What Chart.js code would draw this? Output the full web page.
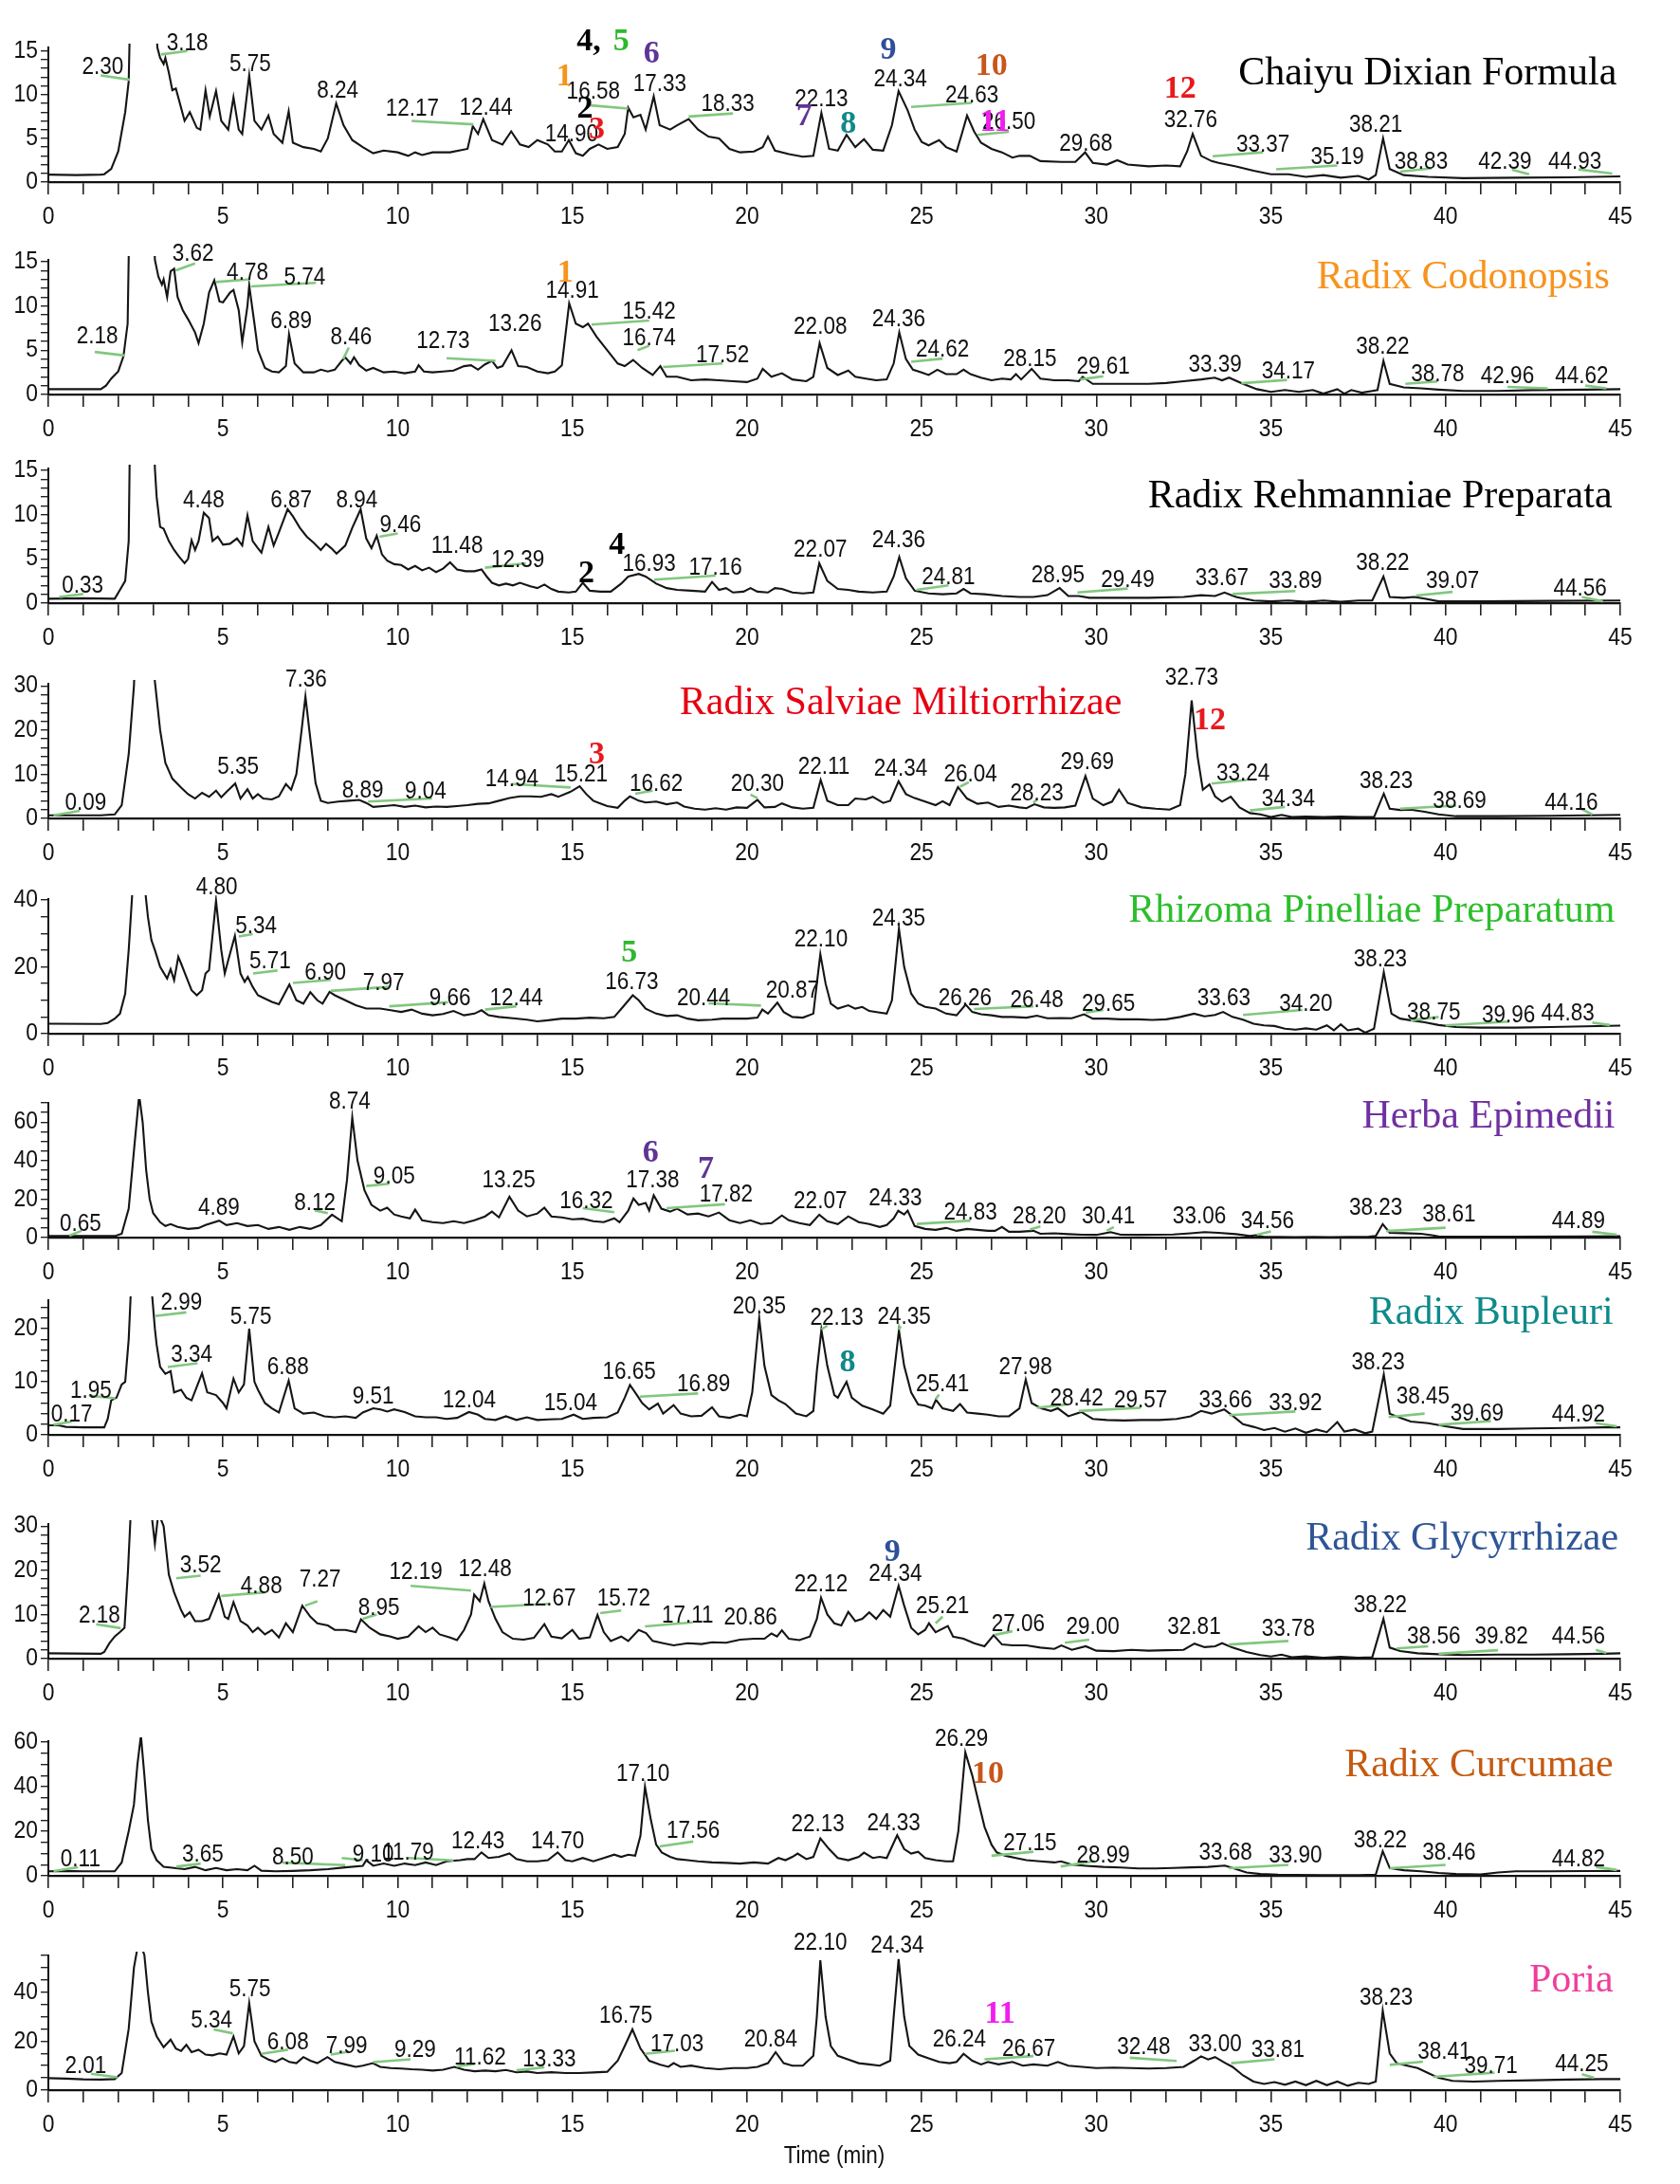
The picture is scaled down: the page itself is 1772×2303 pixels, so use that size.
<!DOCTYPE html>
<html>
<head>
<meta charset="utf-8">
<script src="https://cdn.jsdelivr.net/npm/chart.js@4.4.1/dist/chart.umd.min.js"></script>
<style>
  html, body { margin: 0; padding: 0; background: #fff; }
  #page { position: relative; width: 1772px; height: 2303px; overflow: hidden; background: #fff; }
  #page canvas { position: absolute; left: 0; }
</style>
</head>
<body>
<div id="page"></div>
<script>
// chromatograms: [retention time (min), response]
var traceChaiyu = [[0,0.85],[0.8,0.8],[1.5,0.85],[1.6,0.9],[1.8,1.5],[2.0,3.5],[2.2,8],[2.3,11.5],[2.45,40],[2.75,70],[3.05,22],[3.12,15.4],[3.2,14.2],[3.3,13.5],[3.35,14.2],[3.45,12.5],[3.55,10.5],[3.65,10.7],[3.8,8.5],[3.9,7],[4.05,8],[4.25,6.2],[4.35,6],[4.5,10.5],[4.62,7.5],[4.8,10.4],[4.95,7],[5.15,6],[5.3,9.7],[5.45,6],[5.55,5.5],[5.75,12.2],[5.9,7],[6.1,6],[6.3,7.6],[6.45,5.5],[6.7,4.5],[6.88,8.1],[7.0,4.5],[7.3,4],[7.6,3.8],[7.8,3.5],[8.0,5],[8.24,9],[8.45,6.5],[8.7,4.8],[9.0,4.0],[9.3,3.3],[9.6,3.6],[10.0,3.4],[10.3,3.0],[10.5,3.4],[10.7,3.1],[11.0,3.4],[11.5,3.4],[12.0,3.8],[12.15,6.4],[12.3,5.5],[12.45,7.2],[12.7,4.8],[13.0,4.3],[13.25,5.8],[13.5,4.3],[13.75,4.0],[14.0,4.8],[14.3,4.3],[14.5,3.5],[14.7,3.5],[14.9,4.8],[15.1,3.3],[15.3,3.0],[15.5,3.8],[15.75,4.3],[16.0,3.8],[16.3,4.0],[16.5,5.5],[16.6,8.5],[16.75,7.4],[16.95,7.7],[17.1,6.0],[17.33,9.8],[17.5,6.5],[17.8,6.0],[18.0,6.5],[18.33,7.2],[18.6,6.0],[18.9,5.2],[19.2,5.0],[19.5,3.8],[19.8,3.4],[20.2,3.5],[20.45,4.0],[20.6,5.2],[20.8,3.6],[21.2,3.2],[21.6,2.9],[21.9,3.0],[22.13,7.9],[22.35,3.8],[22.6,3.6],[22.85,5.4],[23.1,4.0],[23.35,4.9],[23.6,3.7],[23.9,3.6],[24.15,6.5],[24.34,10.4],[24.6,8.2],[24.8,6.0],[25.0,4.6],[25.2,4.2],[25.5,4.8],[25.7,4.0],[26.0,3.5],[26.15,5.5],[26.3,7.6],[26.5,5.8],[26.7,4.5],[27.0,3.8],[27.3,3.4],[27.6,2.8],[27.8,3.0],[28.1,3.0],[28.4,2.4],[29.0,2.3],[29.4,2.3],[29.68,3.4],[29.9,2.2],[30.3,2.0],[30.6,2.5],[30.9,2.0],[31.5,1.8],[32.0,1.9],[32.4,1.8],[32.6,3.5],[32.76,5.5],[33.0,3.0],[33.3,2.4],[33.5,2.2],[34.0,1.8],[34.5,1.3],[35.0,0.9],[35.5,0.9],[36.0,0.6],[36.5,0.8],[37.0,0.5],[37.5,0.7],[37.8,0.3],[38.0,0.8],[38.21,5.0],[38.4,1.5],[38.8,0.8],[39.5,0.6],[40.5,0.45],[42,0.5],[43.5,0.55],[45,0.65]];

var traceCodonopsis = [[0,0.6],[1.0,0.6],[1.5,0.6],[1.65,1.0],[1.8,1.8],[2.0,2.6],[2.15,4.3],[2.27,8],[2.4,40],[2.7,70],[2.98,25],[3.05,15.2],[3.15,13.3],[3.25,12.4],[3.3,13],[3.4,11],[3.5,13.9],[3.6,14.2],[3.7,11],[3.85,9.5],[4.0,8.5],[4.2,7],[4.3,5.8],[4.45,8],[4.6,11.5],[4.75,12.9],[4.9,10.5],[5.0,10.4],[5.2,11.5],[5.3,11.8],[5.45,9.5],[5.55,5.9],[5.7,10],[5.75,12.3],[5.9,8],[6.0,5],[6.2,3],[6.4,2.6],[6.6,2.5],[6.8,3.2],[6.89,6.8],[7.05,3.5],[7.3,2.5],[7.6,2.5],[7.8,2.8],[8.0,2.6],[8.2,2.8],[8.4,3.8],[8.5,4.2],[8.65,3.5],[8.75,4.2],[8.9,3.3],[9.1,2.7],[9.3,3.0],[9.6,2.5],[9.9,2.6],[10.2,2.4],[10.5,2.6],[10.6,3.3],[10.75,2.6],[11.0,2.5],[11.3,2.6],[11.6,2.7],[11.9,3.2],[12.1,3.3],[12.3,2.8],[12.5,3.4],[12.7,3.8],[12.85,3.0],[13.0,3.2],[13.26,5.0],[13.45,3.2],[13.7,3.1],[14.0,2.6],[14.3,2.4],[14.5,2.6],[14.7,3.3],[14.91,10.3],[15.1,8],[15.3,7.6],[15.45,8],[15.7,6.5],[16.0,5],[16.3,3.5],[16.5,3.2],[16.74,3.9],[17.0,3.0],[17.3,2.2],[17.52,3.2],[17.7,2.0],[18.0,2.0],[18.4,1.6],[18.8,1.7],[19.2,1.6],[19.6,1.5],[20.0,1.4],[20.3,1.8],[20.45,2.9],[20.7,2.0],[21.0,2.4],[21.3,1.7],[21.7,1.5],[21.9,2.0],[22.08,5.8],[22.3,3.0],[22.6,2.2],[22.9,2.7],[23.1,2.0],[23.4,1.8],[23.7,1.6],[24.0,1.7],[24.2,3.5],[24.36,7.0],[24.55,4.0],[24.75,2.8],[25.0,2.5],[25.2,2.2],[25.45,2.8],[25.7,2.3],[26.0,2.3],[26.2,2.8],[26.4,2.3],[26.7,1.9],[27.0,1.6],[27.3,1.8],[27.55,1.7],[27.7,2.3],[27.85,1.7],[28.15,2.9],[28.4,1.8],[28.8,1.6],[29.2,1.6],[29.5,1.5],[29.61,2.0],[29.9,1.2],[30.5,1.2],[31.5,1.2],[32.0,1.3],[32.5,1.5],[33.0,1.7],[33.39,1.9],[33.6,1.6],[33.8,1.9],[34.2,1.2],[34.6,0.6],[35.0,0.3],[35.4,0.5],[35.8,0.3],[36.2,0.5],[36.5,0.1],[36.9,0.6],[37.1,0.1],[37.3,0.5],[37.6,0.2],[37.9,0.4],[38.05,0.5],[38.22,3.8],[38.4,1.2],[38.8,0.8],[39.3,0.7],[39.8,0.55],[40.5,0.4],[41.5,0.4],[42.5,0.5],[44.0,0.55],[45.0,0.6]];

var traceRehmannia = [[0,0.5],[1.0,0.55],[1.9,0.5],[2.05,1.5],[2.2,2.5],[2.3,7],[2.4,40],[2.7,70],[2.98,25],[3.05,15.2],[3.1,12],[3.2,8.6],[3.3,8.4],[3.45,7],[3.6,6],[3.75,5.2],[3.9,4.5],[4.0,5],[4.1,7.1],[4.2,6],[4.3,7],[4.45,10.2],[4.6,9.6],[4.7,7],[4.85,7.5],[5.0,6.6],[5.2,6.7],[5.4,7.3],[5.55,6.5],[5.7,9.9],[5.85,7],[6.0,6.2],[6.1,5.7],[6.3,8.6],[6.45,6.5],[6.6,8],[6.85,10.6],[7.0,9.8],[7.2,8.5],[7.4,7.5],[7.6,6.8],[7.8,6],[7.95,6.7],[8.1,6.2],[8.25,5.6],[8.5,6.5],[8.7,8.5],[8.94,10.6],[9.1,7.3],[9.25,6.2],[9.4,7.6],[9.55,5.5],[9.7,4.8],[9.9,4.4],[10.1,4.3],[10.3,3.8],[10.5,4.2],[10.7,3.7],[10.9,4.0],[11.1,3.5],[11.3,3.9],[11.5,4.6],[11.7,3.8],[11.95,3.6],[12.2,3.6],[12.4,3.8],[12.55,3.0],[12.7,2.3],[12.9,2.0],[13.1,2.2],[13.3,2.0],[13.5,2.3],[13.8,1.9],[14.0,1.7],[14.2,2.1],[14.4,1.6],[14.6,1.3],[14.9,1.2],[15.1,1.3],[15.3,2.3],[15.5,1.4],[15.8,1.3],[16.1,1.3],[16.4,2.2],[16.6,3.0],[16.9,3.3],[17.1,3.0],[17.4,2.2],[17.7,1.7],[18.0,1.5],[18.4,1.4],[18.8,1.3],[19.0,2.4],[19.2,1.5],[19.4,1.7],[19.6,1.2],[19.9,1.3],[20.1,1.7],[20.3,1.3],[20.6,1.2],[20.8,1.7],[21.0,1.6],[21.3,1.2],[21.6,1.1],[21.9,1.2],[22.07,4.5],[22.3,2.5],[22.6,1.6],[22.9,1.5],[23.2,1.3],[23.6,1.2],[24.0,1.3],[24.2,3.0],[24.36,5.2],[24.55,2.8],[24.8,1.4],[25.2,1.1],[25.6,1.0],[26.0,1.1],[26.2,1.6],[26.4,1.1],[26.8,1.0],[27.3,0.8],[27.8,0.7],[28.2,0.7],[28.6,0.9],[28.95,1.7],[29.2,0.8],[29.5,0.8],[29.8,0.6],[30.5,0.6],[31.5,0.6],[32.5,0.7],[33.0,0.9],[33.4,0.8],[33.67,1.2],[34.0,0.7],[34.5,0.3],[35.0,0.2],[35.5,0.3],[36.0,0.15],[36.5,0.3],[37.0,0.15],[37.5,0.3],[37.9,0.3],[38.22,3.0],[38.4,0.7],[38.8,0.6],[39.1,0.7],[39.4,0.5],[39.8,0.2],[41,0.2],[43,0.25],[45,0.3]];

var traceSalvia = [[0,0.7],[1.5,0.7],[1.9,0.9],[2.1,3],[2.3,14.5],[2.45,30],[2.6,60],[2.9,50],[3.05,31],[3.2,20],[3.35,12.6],[3.55,9],[3.8,7],[4.0,5.5],[4.2,4.5],[4.4,5.8],[4.6,4.9],[4.8,6.3],[4.95,4.8],[5.1,6.0],[5.35,7.9],[5.5,4.5],[5.7,6.6],[5.85,4.5],[6.0,5.5],[6.15,4.5],[6.4,4.3],[6.6,5.0],[6.8,7.8],[6.95,6.5],[7.1,10],[7.25,20],[7.36,27.6],[7.5,18],[7.65,8],[7.8,4.0],[8.0,3.5],[8.3,3.8],[8.6,4.0],[8.9,4.2],[9.1,3.5],[9.3,2.6],[9.6,2.8],[9.9,3.0],[10.2,2.6],[10.5,2.9],[10.8,2.5],[11.1,2.7],[11.4,2.6],[11.7,2.8],[12.0,3.0],[12.3,3.3],[12.6,3.4],[12.9,4.0],[13.2,4.6],[13.5,5.0],[13.8,5.0],[14.1,4.9],[14.4,5.5],[14.6,4.9],[14.94,6.0],[15.21,7.3],[15.4,5.5],[15.6,4.0],[15.8,3.4],[16.0,2.8],[16.3,2.4],[16.5,4.0],[16.65,5.0],[16.9,4.0],[17.1,3.6],[17.4,3.8],[17.7,3.2],[18.0,3.6],[18.2,2.7],[18.5,2.2],[18.8,2.0],[19.1,2.3],[19.4,2.0],[19.7,2.5],[20.0,2.4],[20.3,4.2],[20.5,2.5],[20.8,2.6],[21.0,3.4],[21.3,2.5],[21.6,2.2],[21.9,2.4],[22.11,8.7],[22.3,4.0],[22.6,3.0],[22.9,3.0],[23.1,4.5],[23.4,4.3],[23.6,4.9],[23.9,3.5],[24.1,4.0],[24.34,8.4],[24.55,5.5],[24.8,4.6],[25.1,3.8],[25.4,3.0],[25.6,3.9],[25.8,3.0],[26.04,7.1],[26.3,4.5],[26.6,3.3],[26.9,3.6],[27.2,2.6],[27.5,2.9],[27.8,2.5],[28.0,2.3],[28.23,3.2],[28.5,2.5],[28.8,2.4],[29.1,2.5],[29.4,2.9],[29.69,9.6],[29.9,4.5],[30.2,3.0],[30.45,3.8],[30.65,6.5],[30.9,3.5],[31.3,2.5],[31.7,2.2],[32.1,2.0],[32.4,3.0],[32.55,10],[32.73,26.7],[32.9,14],[33.05,6.5],[33.24,7.7],[33.4,5],[33.6,3.8],[33.85,4.9],[34.1,2.5],[34.4,1.2],[34.7,0.9],[35.0,0.3],[35.3,0.8],[35.6,0.3],[36.0,0.4],[36.5,0.3],[37.0,0.4],[37.5,0.3],[37.95,0.3],[38.23,5.6],[38.4,2.2],[38.7,1.9],[39.0,2.0],[39.4,1.5],[39.8,0.9],[40.3,0.5],[41.5,0.5],[43,0.6],[45,0.8]];

var tracePinellia = [[0,3.0],[1.5,2.9],[1.7,3.2],[1.9,4.5],[2.05,6],[2.2,12],[2.3,25],[2.42,45],[2.6,80],[2.75,45],[2.85,35],[2.95,28],[3.05,25],[3.2,20],[3.4,16.5],[3.5,19.3],[3.6,16],[3.72,23],[3.8,21],[3.95,17],[4.1,13],[4.25,11.5],[4.4,13],[4.5,18],[4.6,19],[4.8,39.8],[4.95,25],[5.05,18],[5.15,22],[5.34,29.3],[5.5,18],[5.62,15.5],[5.71,17],[5.85,14],[6.0,11.5],[6.2,10.5],[6.4,9.5],[6.6,8.8],[6.9,14.7],[7.1,10],[7.3,9],[7.5,12.4],[7.7,10],[7.85,9],[8.05,12.5],[8.2,11.5],[8.5,10],[8.8,8.5],[9.1,7.5],[9.5,7.5],[9.8,7.0],[10.1,6.5],[10.4,7.2],[10.7,6.0],[11.0,5.5],[11.3,5.9],[11.6,6.8],[11.9,5.5],[12.2,6.0],[12.4,7.0],[12.6,5.5],[12.9,5.0],[13.3,4.6],[13.7,4.2],[14.0,3.7],[14.3,4.0],[14.7,4.5],[15.1,4.5],[15.5,4.8],[15.9,4.6],[16.2,5.0],[16.45,8],[16.73,11.5],[16.9,10],[17.1,7.5],[17.4,6.0],[17.7,5.3],[18.0,5.5],[18.3,4.5],[18.6,4.0],[19.0,4.2],[19.3,4.5],[19.6,4.5],[20.0,4.5],[20.3,4.8],[20.44,7.2],[20.6,6.0],[20.87,9.3],[21.05,6.5],[21.3,5.0],[21.6,4.8],[21.9,6.0],[22.0,15],[22.1,23.8],[22.25,15],[22.4,9],[22.6,7.5],[22.9,8.5],[23.1,7.5],[23.3,8.0],[23.5,6.8],[23.8,6.3],[24.0,6.0],[24.15,10],[24.35,31.4],[24.5,20],[24.7,12],[24.9,9],[25.1,8],[25.4,7.5],[25.7,6.0],[26.0,5.5],[26.26,8.7],[26.45,6.5],[26.7,5.8],[27.0,5.5],[27.3,5.0],[27.6,5.0],[28.0,4.8],[28.3,5.4],[28.6,4.6],[29.0,4.7],[29.3,4.6],[29.65,5.8],[29.9,4.5],[30.3,4.5],[30.7,4.3],[31.2,4.3],[31.6,4.1],[32.0,4.3],[32.4,5.0],[32.8,6.0],[33.1,5.2],[33.4,5.6],[33.63,6.5],[33.9,5.0],[34.2,4.2],[34.5,3.0],[34.8,2.5],[35.1,2.3],[35.4,1.5],[35.7,1.2],[36.0,1.6],[36.3,1.2],[36.6,2.5],[36.8,1.0],[37.0,2.8],[37.2,1.0],[37.5,1.5],[37.7,0.3],[37.95,1.5],[38.23,18.4],[38.45,6],[38.7,4.5],[39.0,4.0],[39.4,3.4],[39.8,2.6],[40.3,2.0],[41.0,1.8],[42.0,1.8],[43.0,2.0],[44.0,2.2],[45,2.4]];

var traceEpimedium = [[0,0.85],[1.9,0.8],[2.1,2],[2.3,15],[2.45,45],[2.6,74],[2.7,60],[2.8,35],[2.9,20],[3.0,12.7],[3.2,8],[3.35,6],[3.5,7],[3.7,5.5],[4.0,4.5],[4.3,5],[4.5,6.5],[4.89,8.8],[5.1,6.5],[5.4,7.5],[5.7,6],[6.0,6.5],[6.3,4.5],[6.6,5.5],[6.9,4.0],[7.2,5.5],[7.5,4.5],[7.8,6.5],[8.12,11.9],[8.4,8.5],[8.55,30],[8.7,62.5],[8.85,40],[9.05,24.6],[9.25,17],[9.5,14],[9.7,15.5],[9.9,12],[10.1,11],[10.35,10],[10.5,14.5],[10.7,9],[11.0,8],[11.3,7.5],[11.6,8.5],[11.9,7.5],[12.2,9],[12.5,11],[12.7,13.5],[12.9,10.5],[13.2,21.2],[13.45,14],[13.7,11],[14.0,12.5],[14.2,15.5],[14.4,11],[14.7,10.5],[15.0,9.5],[15.3,9.8],[15.6,8.5],[15.9,8.0],[16.2,10],[16.35,8],[16.6,14],[16.75,20.3],[16.9,17],[17.1,18],[17.2,14],[17.33,22],[17.55,15],[17.8,13.5],[18.0,15],[18.3,12],[18.6,12.5],[18.9,11],[19.2,13],[19.5,9],[19.8,7.5],[20.1,9],[20.4,7],[20.7,7.5],[21.0,11.5],[21.2,9],[21.5,7.5],[21.8,6.5],[22.07,11.9],[22.3,8.5],[22.6,7],[22.9,11],[23.2,8],[23.5,7],[23.8,5.5],[24.0,6.5],[24.2,10],[24.33,13.9],[24.5,12],[24.6,14],[24.8,6],[25.1,4.5],[25.4,4],[25.7,5],[26.0,3.5],[26.3,4.5],[26.6,4],[26.9,3.5],[27.1,3.5],[27.3,5.5],[27.5,3.0],[27.8,3.0],[28.2,3.5],[28.4,2.0],[28.8,2.2],[29.2,1.8],[29.6,1.5],[30.0,1.4],[30.41,2.8],[30.7,1.5],[31.2,1.4],[31.7,1.5],[32.2,1.6],[32.7,2.2],[33.1,2.8],[33.5,2.5],[34.0,1.8],[34.4,0.8],[34.56,1.2],[34.8,0.3],[35.2,0.4],[35.7,0.2],[36.2,0.3],[36.7,0.2],[37.2,0.3],[37.8,0.5],[38.0,0.8],[38.2,7.0],[38.4,2.5],[38.8,2.3],[39.3,2.0],[39.6,1.2],[39.8,0.6],[40.5,0.5],[42,0.5],[44,0.6],[45,0.7]];

var traceBupleurum = [[0,1.8],[0.3,1.8],[0.5,1.5],[1.0,1.4],[1.6,1.4],[1.7,3],[1.8,6.5],[1.95,7],[2.1,9.5],[2.2,10],[2.3,18],[2.45,40],[2.7,50],[2.95,28],[3.05,20],[3.1,17],[3.2,12.8],[3.35,11.5],[3.5,12],[3.6,8],[3.8,8.5],[3.95,7],[4.1,6.5],[4.4,11.6],[4.55,8],[4.8,7.5],[5.0,6],[5.1,5],[5.3,10.6],[5.45,8],[5.6,9.5],[5.75,20],[5.9,10],[6.0,8.5],[6.2,6],[6.4,5.0],[6.6,4.2],[6.88,10.2],[7.05,5],[7.3,4],[7.6,4.2],[7.9,3.5],[8.2,3.3],[8.5,3.5],[8.8,3.2],[9.0,4.2],[9.3,5],[9.51,4.8],[9.7,4.4],[9.9,4.8],[10.2,4.3],[10.5,3.5],[10.8,3.3],[11.1,3.3],[11.4,3.0],[11.7,3.2],[12.04,4.3],[12.3,3.8],[12.5,3.0],[12.8,2.8],[13.1,3.5],[13.4,2.8],[13.7,3.3],[14.0,2.8],[14.3,2.9],[14.7,3.0],[15.04,3.8],[15.3,3.0],[15.6,3.2],[16.0,3.3],[16.3,4.2],[16.5,7],[16.65,9.4],[16.85,7.5],[17.0,6.0],[17.2,4.8],[17.45,5.9],[17.6,4.0],[17.9,5.6],[18.1,4.0],[18.4,3.5],[18.7,3.6],[19.0,5.2],[19.2,3.5],[19.5,3.2],[19.8,3.8],[20.0,3.5],[20.15,8],[20.35,22],[20.5,13],[20.7,7.5],[20.9,6.5],[21.1,5.8],[21.4,4.0],[21.7,3.5],[21.9,4.5],[22.0,12],[22.13,19.8],[22.3,13],[22.5,7.5],[22.6,7.0],[22.85,10],[23.0,7.0],[23.3,5.5],[23.6,4.8],[23.9,4.0],[24.1,5.5],[24.35,19.7],[24.5,13],[24.7,8],[24.9,5.7],[25.1,5.5],[25.3,5.0],[25.41,6.6],[25.6,5.0],[25.9,4.5],[26.1,5.8],[26.3,4.2],[26.6,4.0],[26.9,3.8],[27.2,3.5],[27.5,3.5],[27.8,5],[27.98,10.4],[28.15,6],[28.42,5.0],[28.7,4.5],[28.9,5.0],[29.2,3.5],[29.57,4.3],[29.9,3.0],[30.3,2.8],[30.8,2.7],[31.3,2.8],[31.8,2.8],[32.3,3.0],[32.7,3.5],[33.0,4.5],[33.3,4.0],[33.66,4.8],[33.92,3.5],[34.2,2.0],[34.5,1.5],[34.8,0.9],[35.1,1.3],[35.4,0.6],[35.7,1.2],[36.0,0.4],[36.3,1.0],[36.6,0.5],[36.9,2.4],[37.1,0.6],[37.4,1.0],[37.7,0.3],[37.9,0.6],[38.23,11.4],[38.4,4],[38.7,3.2],[39.0,2.5],[39.5,2.2],[40.0,1.6],[40.5,1.1],[41.5,1.1],[42.5,1.2],[43.5,1.3],[44.5,1.4],[45,1.4]];

var traceGlycyrrhiza = [[0,1.2],[1.5,1.1],[1.6,1.5],[1.75,3.5],[1.9,5],[2.05,6],[2.18,7],[2.28,20],[2.4,40],[2.7,60],[2.95,33],[3.05,26],[3.15,33],[3.3,30],[3.45,19],[3.6,15],[3.8,11],[3.9,9.5],[4.05,10.5],[4.2,8.5],[4.4,8.5],[4.6,9],[4.88,14.5],[5.05,9.5],[5.15,9],[5.3,12.8],[5.5,8.5],[5.7,7.5],[5.85,6],[6.0,7],[6.2,5.5],[6.4,6.5],[6.6,4.8],[6.8,8],[7.0,6],[7.27,12],[7.5,9.5],[7.7,8],[8.0,7.5],[8.2,6.5],[8.5,6.5],[8.8,6.0],[8.95,8.9],[9.2,7],[9.5,5.5],[9.8,5.0],[10.0,4.5],[10.3,5.0],[10.6,7.3],[10.8,6.0],[11.0,7.0],[11.2,5.5],[11.5,4.8],[11.7,4.2],[11.9,6.5],[12.1,10],[12.19,14.5],[12.35,13],[12.48,17],[12.6,13],[12.8,9],[13.0,6.0],[13.3,4.5],[13.6,4.3],[13.9,4.7],[14.2,7.8],[14.4,5.0],[14.7,4.6],[15.0,6.5],[15.2,4.5],[15.5,4.8],[15.72,9.9],[15.9,6.0],[16.1,4.0],[16.4,5.0],[16.6,4.0],[16.9,6.5],[17.11,5.8],[17.3,4.0],[17.6,3.5],[17.9,3.0],[18.3,3.5],[18.7,3.3],[19.0,3.7],[19.4,3.6],[19.8,4.3],[20.2,4.5],[20.5,4.5],[20.7,5.7],[20.86,5.0],[21.0,6.4],[21.2,4.5],[21.5,4.2],[21.8,5.0],[22.0,9],[22.12,13.8],[22.3,10],[22.5,8],[22.7,7.5],[22.9,10.6],[23.1,8.5],[23.3,9],[23.5,10.5],[23.7,9],[23.9,11],[24.1,9.5],[24.34,16.5],[24.5,12],[24.7,7],[24.9,5.5],[25.1,6.5],[25.21,8],[25.4,6],[25.75,7.4],[25.9,5.0],[26.2,4.5],[26.5,3.5],[26.8,2.8],[27.06,5.3],[27.3,3.2],[27.6,3.0],[28.0,3.0],[28.4,2.5],[28.8,2.2],[29.0,3.0],[29.3,2.0],[29.7,2.8],[30.0,1.8],[30.5,1.7],[31.0,2.0],[31.5,1.8],[32.0,1.9],[32.5,2.0],[32.81,3.4],[33.1,2.6],[33.4,2.8],[33.6,3.5],[33.9,2.5],[34.3,1.5],[34.7,0.8],[35.0,0.5],[35.3,0.9],[35.6,0.3],[36.0,0.5],[36.5,0.2],[37.0,0.4],[37.5,0.2],[37.9,0.3],[38.22,9.0],[38.4,2.5],[38.7,1.7],[39.2,1.2],[39.8,1.0],[40.5,0.8],[41.5,0.9],[42.5,0.9],[43.5,1.0],[44.5,1.1],[45,1.2]];

var traceCurcuma = [[0,2.0],[0.5,2.2],[1.0,2.0],[1.9,2.0],[2.1,6],[2.3,20],[2.45,32],[2.55,50],[2.65,63],[2.75,45],[2.85,25],[2.95,12],[3.1,7],[3.3,4],[3.6,3.5],[3.9,3.0],[4.2,4.0],[4.5,2.5],[4.8,3.5],[5.1,2.5],[5.4,3.0],[5.7,2.5],[5.9,4.5],[6.1,2.3],[6.5,2.0],[7.0,2.2],[7.5,2.5],[8.0,3.0],[8.5,3.8],[9.0,4.5],[9.1,7],[9.3,4.5],[9.6,5.5],[9.9,4.5],[10.2,5.5],[10.5,4.8],[10.8,6.0],[11.1,4.8],[11.4,6.5],[11.79,7.0],[12.0,7.5],[12.2,7.5],[12.4,10.5],[12.6,8],[12.9,8.5],[13.2,10],[13.4,7.5],[13.7,6.5],[14.0,6.5],[14.3,7.0],[14.58,10.5],[14.8,7],[15.0,6.5],[15.3,8],[15.6,6.5],[15.9,8],[16.2,9.5],[16.4,8.5],[16.6,9.5],[16.8,9],[16.95,18],[17.08,40],[17.25,25],[17.4,14],[17.56,10.5],[17.8,8.5],[18.0,7.5],[18.3,7.0],[18.6,6.5],[19.0,6.0],[19.4,5.8],[19.8,5.5],[20.2,6.0],[20.6,5.5],[20.9,8.0],[21.1,7.0],[21.3,8.5],[21.45,10],[21.7,7.5],[21.9,8.5],[22.1,16.8],[22.35,12],[22.6,8],[22.9,7.0],[23.2,8.5],[23.35,10.4],[23.6,8],[23.8,8.5],[24.0,8],[24.3,18.2],[24.5,12],[24.7,10],[24.9,10.8],[25.1,8],[25.4,7],[25.7,6.5],[25.9,6.5],[26.05,20],[26.25,55.5],[26.45,45],[26.6,35],[26.8,22],[27.0,14],[27.15,10.5],[27.4,9.0],[27.7,8.0],[28.0,7.0],[28.4,6.5],[28.8,6.0],[28.99,6.5],[29.3,5.0],[29.7,4.5],[30.2,4.0],[30.7,3.7],[31.2,3.3],[31.7,3.3],[32.2,3.5],[32.7,3.8],[33.2,4.0],[33.68,4.6],[33.9,3.5],[34.3,1.5],[34.7,0.8],[35.2,0.5],[35.7,0.4],[36.5,0.3],[37.5,0.3],[38.0,0.5],[38.2,11],[38.4,3.5],[38.8,2.5],[39.3,2.0],[39.8,1.3],[40.3,0.8],[41.0,0.6],[41.5,1.5],[42.0,2.0],[43.0,2.0],[44.0,2.1],[45.0,2.2]];

var tracePoria = [[0,4.9],[0.5,4.7],[1.0,4.4],[1.5,4.3],[1.9,4.5],[2.1,7],[2.3,25],[2.45,50],[2.6,62],[2.75,55],[2.85,40],[2.95,28],[3.1,22],[3.3,17.5],[3.5,20.6],[3.65,17],[3.8,16],[3.95,18.5],[4.1,15.5],[4.3,16.5],[4.5,14.5],[4.7,14.2],[4.9,15],[5.1,14.5],[5.3,21.9],[5.45,15],[5.6,18],[5.75,35.5],[5.9,20],[6.1,14],[6.3,12.5],[6.5,11.5],[6.7,13],[6.9,11.5],[7.1,11],[7.3,13.5],[7.5,12],[7.7,11],[7.99,13.5],[8.2,11.5],[8.5,10.5],[8.8,9.5],[9.0,10],[9.29,11],[9.5,9.5],[9.8,9.0],[10.1,8.8],[10.4,8.5],[10.7,8.3],[11.0,8.0],[11.3,8.3],[11.62,9.5],[11.9,8.3],[12.2,7.7],[12.5,8.0],[12.8,7.7],[13.1,8.2],[13.4,7.3],[13.7,7.6],[14.0,7.0],[14.4,7.3],[14.8,7.0],[15.2,7.0],[15.6,7.2],[16.0,7.5],[16.3,12],[16.5,18],[16.72,24.8],[16.95,17],[17.2,12],[17.5,10.5],[17.75,9.5],[17.9,11.0],[18.1,9.5],[18.4,10],[18.8,9.0],[19.2,8.5],[19.6,9.0],[20.0,9.0],[20.3,9.5],[20.6,11],[20.82,15.5],[21.05,11],[21.3,10],[21.6,10],[21.9,14],[22.0,30],[22.1,53],[22.25,30],[22.4,18],[22.6,14],[22.9,12.5],[23.2,11],[23.5,10.5],[23.8,10],[24.1,12],[24.2,30],[24.34,53.5],[24.5,30],[24.65,18],[24.9,14.5],[25.2,13],[25.5,11.5],[25.8,11],[26.0,11.5],[26.2,14.8],[26.45,12],[26.7,10.5],[26.9,11.5],[27.2,10.5],[27.6,11.5],[27.9,10],[28.2,10.5],[28.6,10],[28.9,11.5],[29.2,10],[29.6,9.5],[30.0,9.0],[30.5,9.2],[31.0,9.0],[31.5,8.8],[32.0,9.0],[32.5,9.5],[32.8,12],[33.0,13.8],[33.2,12.5],[33.4,13.5],[33.7,11],[33.9,9.5],[34.2,6],[34.5,3.5],[34.8,2.5],[35.1,3.3],[35.4,2.2],[35.7,3.5],[36.0,2.0],[36.3,3.8],[36.6,2.0],[36.9,3.5],[37.2,1.8],[37.5,3.0],[37.8,2.5],[38.0,3.5],[38.2,32.5],[38.4,15],[38.6,11],[38.9,10],[39.2,9],[39.5,7],[39.8,5],[40.2,3.8],[40.8,3.5],[41.5,3.8],[42.5,4.0],[43.5,4.3],[44.5,4.5],[45,4.5]];

// peak labels: [text, label centre (min), label centre (response), green leader x1,y1,x2,y2]
var peaksChaiyu = [['2.30',1.56,13.1,[1.5,12.2,2.34,11.7]],['3.18',3.98,15.85,[3.23,14.6,3.98,15.0]],['5.75',5.78,13.4,null],['8.24',8.28,10.45,null],['12.17',10.42,8.36,[10.4,7.0,12.17,6.6]],['12.44',12.53,8.5,null],['14.90',14.98,5.4,null],['16.58',15.6,10.3,[15.45,8.8,16.6,8.4]],['17.33',17.5,11.15,null],['18.33',19.45,8.9,[18.33,7.5,19.6,7.85]],['22.13',22.13,9.4,null],['24.34',24.39,11.7,null],['24.63',26.44,9.9,[24.7,8.6,26.44,9.05]],['26.50',27.5,6.8,[26.6,5.4,27.5,5.75]],['29.68',29.7,4.35,null],['32.76',32.7,7.0,null],['33.37',34.77,4.2,[33.33,2.96,34.77,3.4]],['35.19',36.9,2.8,[35.15,1.46,36.9,1.9]],['38.21',38.0,6.45,null],['38.83',39.3,2.26,[38.7,1.2,39.6,1.57]],['42.39',41.7,2.26,[41.9,1.4,42.39,0.9]],['44.93',43.7,2.26,[43.8,1.45,44.77,0.97]]];
var peaksCodonopsis = [['2.18',1.4,6.5,[1.33,4.8,2.19,4.4]],['3.62',4.14,15.8,[3.64,14.0,4.2,14.8]],['4.78',5.7,13.7,[4.8,12.7,5.78,13.0]],['5.74',7.34,13.2,[5.8,12.2,7.66,12.6]],['6.89',6.95,8.25,null],['8.46',8.67,6.36,[8.44,4.0,8.6,5.3]],['12.73',11.3,6.0,[11.4,4.1,12.8,3.8]],['13.26',13.36,7.9,null],['14.91',15.0,11.7,null],['15.42',17.2,9.3,[15.55,7.9,17.2,8.35]],['16.74',17.2,6.35,[16.87,5.0,17.2,5.5]],['17.52',19.3,4.4,[17.6,3.1,19.3,3.5]],['22.08',22.1,7.6,null],['24.36',24.34,8.4,null],['24.62',25.6,5.0,[24.7,3.7,25.6,4.05]],['28.15',28.1,3.95,null],['29.61',30.2,3.1,[29.54,1.7,30.2,2.06]],['33.39',33.4,3.26,null],['34.17',35.5,2.6,[34.15,1.27,35.46,1.65]],['38.22',38.2,5.3,null],['38.78',39.77,2.23,[38.85,1.2,39.77,1.48]],['42.96',41.77,2.06,[41.77,0.86,42.92,0.69]],['44.62',43.9,2.06,[44.0,1.0,44.6,0.69]]];
var peaksRehmannia = [['0.33',0.98,1.9,[0.31,0.7,1.0,1.03]],['4.48',4.45,11.5,null],['6.87',6.95,11.5,null],['8.94',8.83,11.5,null],['9.46',10.08,8.8,[9.48,7.5,10.0,7.86]],['11.48',11.7,6.4,null],['12.39',13.44,4.8,[12.5,4.0,13.67,4.5]],['16.93',17.2,4.4,null],['17.16',19.1,4.0,[17.34,2.65,19.1,3.1]],['22.07',22.1,6.0,null],['24.36',24.34,7.0,null],['24.81',25.77,2.9,[24.85,1.5,25.77,2.0]],['28.95',28.9,3.1,null],['29.49',30.9,2.6,[29.46,1.2,30.9,1.65]],['33.67',33.6,2.75,null],['33.89',35.7,2.4,[33.9,1.03,35.7,1.37]],['38.22',38.2,4.5,null],['39.07',40.2,2.4,[39.15,0.86,40.2,1.27]],['44.56',43.85,1.55,[43.9,0.7,44.5,0.2]]];
var peaksSalvia = [['0.09',1.07,3.5,[0.15,0.7,0.9,1.7]],['5.35',5.43,11.5,null],['7.36',7.38,31.4,null],['8.89',9.0,6.3,null],['9.04',10.8,5.9,[9.15,3.8,10.98,4.5]],['14.94',13.27,8.7,[13.27,7.8,14.95,7.0]],['15.21',15.25,9.8,null],['16.62',17.4,7.7,[16.8,5.6,17.3,6.3]],['20.30',20.3,7.7,[20.1,5.4,20.3,4.6]],['22.11',22.2,11.5,null],['24.34',24.4,11.2,null],['26.04',26.4,9.8,[26.1,7.2,26.35,8.2]],['28.23',28.3,5.6,[28.2,3.5,28.3,4.3]],['29.69',29.74,12.7,null],['32.73',32.73,31.8,null],['33.24',34.2,10.1,[33.3,7.9,34.3,8.7]],['34.34',35.5,4.2,[34.4,1.8,35.4,2.6]],['38.23',38.3,8.4,null],['38.69',40.4,3.8,[38.7,2.2,40.3,2.9]],['44.16',43.6,3.5,[43.9,2.1,44.2,0.9]]];
var peaksPinellia = [['4.80',4.82,43.7,null],['5.34',5.95,31.9,[5.45,29.1,5.85,29.8]],['5.71',6.35,21.4,[5.86,18.0,6.56,18.9]],['6.90',7.93,18.0,[7.0,15.2,8.08,16.1]],['7.97',9.6,14.9,[8.08,12.8,9.76,14.0]],['9.66',11.5,10.5,[9.76,8.2,11.44,9.4]],['12.44',13.4,10.5,[12.5,7.2,13.4,8.2]],['16.73',16.7,15.2,null],['20.44',18.76,10.5,[18.9,9.1,20.4,8.4]],['20.87',21.3,12.8,null],['22.10',22.12,28.2,null],['24.35',24.34,34.2,null],['26.26',26.24,10.5,null],['26.48',28.3,10.0,[26.5,7.4,28.2,8.2]],['29.65',30.35,8.65,[29.7,6.3,30.2,7.1]],['33.63',33.65,10.5,null],['34.20',36.0,8.65,[34.2,5.6,35.9,7.1]],['38.23',38.13,22.1,null],['38.75',39.66,6.3,[39.0,4.0,39.8,5.0]],['39.96',41.8,5.4,[40.0,2.5,41.8,3.6]],['44.83',43.5,5.9,[44.2,3.3,44.7,2.6]]];
var peaksEpimedium = [['0.65',0.92,6.8,[0.6,1.0,0.95,3.5]],['4.89',4.88,15.3,null],['8.12',7.63,17.8,[7.63,14.1,8.0,12.7]],['8.74',8.63,70.3,null],['9.05',9.9,31.4,[9.1,26.8,9.76,28]],['13.25',13.18,29.7,null],['16.32',15.4,18.6,[15.3,15.25,16.2,13.2]],['17.38',17.3,29.7,null],['17.82',19.4,22,[17.7,15.25,19.37,17.3]],['22.07',22.1,18.6,null],['24.33',24.25,20.3,null],['24.83',26.4,12.7,[24.86,7.1,26.4,8.8]],['28.20',28.37,11,[28.1,4.2,28.4,5.8]],['30.41',30.35,11,[30.3,3.5,30.5,5.5]],['33.06',32.95,11,null],['34.56',34.9,8.5,[34.6,1.5,35.0,3.2]],['38.23',38.0,15.3,null],['38.61',40.1,11.9,[38.3,3.4,40.0,5.1]],['44.89',43.8,8.5,[44.2,3.0,44.9,1.5]]];
var peaksBupleurum = [['0.17',0.67,3.8,[0.15,1.9,0.67,2.5]],['1.95',1.22,8.2,[1.16,7.4,1.92,6.9]],['2.99',3.81,24.8,[3.05,22.4,3.95,23.1]],['3.34',4.1,15,[3.42,12.8,4.27,13.5]],['5.75',5.8,22.2,null],['6.88',6.86,12.6,null],['9.51',9.3,7.06,null],['12.04',12.05,6.5,null],['15.04',14.95,5.9,null],['16.65',16.63,11.8,null],['16.89',18.76,9.4,[16.93,7.2,18.6,7.8]],['20.35',20.35,24.1,null],['22.13',22.57,22,[22.13,19.9,22.3,20.6]],['24.35',24.5,22.2,[24.35,19.8,24.4,20.5]],['25.41',25.6,9.4,[25.4,6.7,25.5,7.6]],['27.98',27.97,12.6,null],['28.42',29.44,6.8,[28.3,5.1,29.13,5.7]],['29.57',31.27,6.5,[29.5,4.5,31.27,5.1]],['33.66',33.7,6.5,null],['33.92',35.7,5.9,[33.8,3.7,35.7,4.4]],['38.23',38.07,13.5,null],['38.45',39.35,7.06,[38.37,3.35,39.4,4.0]],['39.69',40.9,4.0,[39.8,1.9,41.3,2.6]],['44.92',43.8,3.8,[44.3,2.2,44.9,1.6]]];
var peaksGlycyrrhiza = [['2.18',1.46,9.6,[1.37,7.8,2.07,6.9]],['3.52',4.36,21.1,[3.66,18.2,4.36,18.8]],['4.88',6.1,16.2,[4.95,14.2,6.2,15.0]],['7.27',7.78,17.7,[7.35,12.0,7.7,13.0]],['8.95',9.46,11.3,[9.0,9.0,9.4,10.0]],['12.19',10.52,19.5,[10.37,16.5,12.1,15.4]],['12.48',12.5,20.2,null],['12.67',14.34,13.5,[12.66,11.7,14.34,12.4]],['15.72',16.47,13.5,[15.8,10.3,16.4,10.9]],['17.11',18.3,9.6,[17.08,7.3,18.45,8.2]],['20.86',20.1,9.2,null],['22.12',22.12,16.8,null],['24.34',24.25,19.1,null],['25.21',25.6,11.7,[25.4,8.0,25.6,9.5]],['27.06',27.76,7.8,[27.1,5.4,27.6,6.2]],['29.00',29.9,7.1,[29.1,3.6,29.8,4.3]],['32.81',32.8,7.1,null],['33.78',35.5,6.7,[33.8,3.2,35.5,4.0]],['38.22',38.13,12,null],['38.56',39.66,5.0,[38.6,2.3,39.5,2.8]],['39.82',41.6,5.0,[39.8,1.1,41.5,1.9]],['44.56',43.8,5.0,[44.3,2.0,44.6,1.3]]];
var peaksCurcuma = [['0.11',0.92,7.3,[0.15,2.1,0.85,3.8]],['3.65',4.42,9.4,[3.66,4.1,4.36,5.5]],['8.50',7.0,8.0,[6.7,5.9,8.5,4.8]],['9.10',9.3,9.4,[8.4,8.0,9.0,7.0]],['11.79',10.3,10.1,[10.3,8.0,11.6,6.9]],['12.43',12.3,15.1,null],['14.70',14.58,15.1,null],['17.10',17.02,45.4,null],['17.56',18.46,20,[17.5,13.2,18.46,15.4]],['22.13',22.03,22.8,null],['24.33',24.2,23.5,null],['26.29',26.14,61.1,null],['27.15',28.1,14.6,[27.0,9.0,28.2,10.8]],['28.99',30.2,8.7,[28.98,4.2,29.96,6.6]],['33.68',33.7,10.1,null],['33.90',35.7,8.7,[33.8,3.4,35.5,4.9]],['38.22',38.13,15.8,null],['38.46',40.1,10.1,[38.4,3.4,40.0,4.9]],['44.82',43.8,7.3,[44.3,4.0,44.9,2.6]]];
var peaksPoria = [['2.01',1.07,9.7,[1.22,6.7,1.98,5.2]],['5.34',4.67,28.4,[4.73,24.8,5.28,23.2]],['5.75',5.77,41,null],['6.08',6.86,19.4,[6.1,14.8,6.86,16.5]],['7.99',8.54,17.8,[8.08,14.5,8.6,15.7]],['9.29',10.5,16.1,[9.3,11.4,10.37,12.6]],['11.62',12.36,13.2,[11.68,9.7,12.2,10.7]],['13.33',14.34,12.3,[13.4,8.1,14.2,9.3]],['16.75',16.53,30.3,null],['17.03',18.0,18.7,[17.08,14.8,17.94,16.1]],['20.84',20.68,20.6,null],['22.10',22.1,60,null],['24.34',24.3,59,null],['26.24',26.08,20.6,null],['26.67',28.07,16.8,[26.8,12.6,28.2,13.9]],['32.48',31.36,17.4,[30.96,13.2,32.3,11.9]],['33.00',33.4,18.7,null],['33.81',35.2,16.1,[33.86,11.0,35.1,12.6]],['38.23',38.3,37.4,null],['38.41',39.96,15.5,[38.4,10.3,39.35,11.6]],['39.71',41.3,9.7,[39.65,5.4,41.4,7.1]],['44.25',43.9,10.3,[43.9,6.5,44.25,5.0]]];

// numbered compounds: [number, centre (min), centre (response)]
var marksChaiyu = [['4,',15.47,16.0],['5',16.4,16.0],['6',17.27,14.6],['1',14.77,12.0],['2',15.36,8.36],['3',15.7,5.9],['7',21.64,7.5],['8',22.9,6.6],['9',24.05,15.0],['10',27.0,13.2],['11',27.1,6.8],['12',32.4,10.6]];
var marksCodonopsis = [['1',14.8,13.7]];
var marksRehmannia = [['2',15.4,3.3],['4',16.28,6.55]];
var marksSalvia = [['3',15.7,14.3],['12',33.25,22]];
var marksPinellia = [['5',16.63,24]];
var marksEpimedium = [['6',17.24,44],['7',18.82,35.6]];
var marksBupleurum = [['8',22.88,13.5]];
var marksGlycyrrhiza = [['9',24.16,24.1]];
var marksCurcuma = [['10',26.9,45.4]];
var marksPoria = [['11',27.24,31]];

var sampleNames = ['Chaiyu Dixian Formula', 'Radix Codonopsis', 'Radix Rehmanniae Preparata', 'Radix Salviae Miltiorrhizae', 'Rhizoma Pinelliae Preparatum', 'Herba Epimedii', 'Radix Bupleuri', 'Radix Glycyrrhizae', 'Radix Curcumae', 'Poria'];
var xTicks = [0, 5, 10, 15, 20, 25, 30, 35, 40, 45];

var markColors = {'1':'#F7941D','2':'#000','3':'#E8191E','4':'#000','4,':'#000','5':'#2DB82D','6':'#5E3596','7':'#5E3596','8':'#12888A','9':'#2F4F9A','10':'#C8561A','11':'#F21DF2','12':'#E8191E'};
var nameColors = ['#000','#F7931E','#000','#E60012','#2DBE2D','#7030A0','#0E8A8A','#2E5597','#C55A11','#EE3F9A'];

// panel layout: pixel row of the zero line, top of y axis, minor / labelled y steps, title place
var panels = [
  {trace: traceChaiyu, peaks: peaksChaiyu, marks: marksChaiyu, zero: 192, yMax: 15.4, minor: 1, major: 5, tx: 44.9, ty: 12.4, align: 'right'},
  {trace: traceCodonopsis, peaks: peaksCodonopsis, marks: marksCodonopsis, zero: 416, yMax: 15.2, minor: 1, major: 5, tx: 44.7, ty: 13.2, align: 'right'},
  {trace: traceRehmannia, peaks: peaksRehmannia, marks: marksRehmannia, zero: 636, yMax: 15.2, minor: 1, major: 5, tx: 44.77, ty: 12.0, align: 'right'},
  {trace: traceSalvia, peaks: peaksSalvia, marks: marksSalvia, zero: 863, yMax: 30.5, minor: 2, major: 10, tx: 24.4, ty: 26, align: 'center'},
  {trace: tracePinellia, peaks: peaksPinellia, marks: marksPinellia, zero: 1090, yMax: 40.3, minor: 5, major: 20, tx: 44.85, ty: 36.5, align: 'right'},
  {trace: traceEpimedium, peaks: peaksEpimedium, marks: marksEpimedium, zero: 1305, yMax: 70, minor: 5, major: 20, tx: 44.85, ty: 62.7, align: 'right'},
  {trace: traceBupleurum, peaks: peaksBupleurum, marks: marksBupleurum, zero: 1513, yMax: 25.4, minor: 2, major: 10, tx: 44.8, ty: 22.9, align: 'right'},
  {trace: traceGlycyrrhiza, peaks: peaksGlycyrrhiza, marks: marksGlycyrrhiza, zero: 1749, yMax: 30.5, minor: 2, major: 10, tx: 44.95, ty: 27, align: 'right'},
  {trace: traceCurcuma, peaks: peaksCurcuma, marks: marksCurcuma, zero: 1978, yMax: 60.5, minor: 5, major: 20, tx: 44.8, ty: 49.6, align: 'right'},
  {trace: tracePoria, peaks: peaksPoria, marks: marksPoria, zero: 2204, yMax: 55, minor: 5, major: 20, tx: 44.8, ty: 44.7, align: 'right'}
];

var AXIS_H = 142, PAD_TOP = 60, X_H = 70;
var sans = '"Liberation Sans", Arial, sans-serif';
var serif = '"Liberation Serif", "Times New Roman", serif';

function squeeze(ctx, s, x, y, sx) {
  ctx.save();
  ctx.translate(x, y);
  ctx.scale(sx, 1);
  ctx.fillText(s, 0, 0);
  ctx.restore();
}

function labelPlugin(p, idx, last) {
  return {
    id: 'chromLabels',
    afterDraw: function (chart) {
      var ctx = chart.ctx, xs = chart.scales.x, ys = chart.scales.y, area = chart.chartArea;
      var px = function (v) { return xs.getPixelForValue(v); };
      var py = function (v) { return ys.getPixelForValue(v); };
      ctx.save();
      ctx.textBaseline = 'middle';

      // axis numbers
      ctx.fillStyle = '#111';
      ctx.font = '26px ' + sans;
      ctx.textAlign = 'center';
      xTicks.forEach(function (v) { squeeze(ctx, String(v), px(v), area.bottom + 37, 0.88); });
      ctx.textAlign = 'right';
      ys.ticks.forEach(function (t) {
        if (t.value % p.major === 0) squeeze(ctx, String(t.value), area.left - 11, py(t.value), 0.88);
      });

      // green leaders
      ctx.strokeStyle = '#82C77F';
      ctx.lineWidth = 2.6;
      p.peaks.forEach(function (pk) {
        var l = pk[3];
        if (!l) return;
        ctx.beginPath();
        ctx.moveTo(px(l[0]), py(l[1]));
        ctx.lineTo(px(l[2]), py(l[3]));
        ctx.stroke();
      });

      // retention time labels
      ctx.fillStyle = '#111';
      ctx.font = '25px ' + sans;
      ctx.textAlign = 'center';
      p.peaks.forEach(function (pk) { squeeze(ctx, pk[0], px(pk[1]), py(pk[2]), 0.9); });

      // compound numbers
      ctx.font = 'bold 34px ' + serif;
      p.marks.forEach(function (m) {
        ctx.fillStyle = markColors[m[0]];
        ctx.fillText(m[0], px(m[1]), py(m[2]));
      });

      // sample name
      ctx.font = '42px ' + serif;
      ctx.fillStyle = nameColors[idx];
      ctx.textAlign = p.align;
      ctx.fillText(sampleNames[idx], px(p.tx), py(p.ty));

      if (last) {
        ctx.fillStyle = '#111';
        ctx.font = '25px ' + sans;
        ctx.textAlign = 'center';
        squeeze(ctx, 'Time (min)', (area.left + area.right) / 2, area.bottom + 70, 0.9);
      }
      ctx.restore();
    }
  };
}

function makeChart(p, idx) {
  var last = idx === panels.length - 1;
  var xh = last ? 110 : X_H;
  var h = PAD_TOP + AXIS_H + xh;
  var canvas = document.createElement('canvas');
  canvas.width = 1772;
  canvas.height = h;
  canvas.style.width = '1772px';
  canvas.style.height = h + 'px';
  canvas.style.top = (p.zero - AXIS_H - PAD_TOP) + 'px';
  document.getElementById('page').appendChild(canvas);

  new Chart(canvas.getContext('2d'), {
    type: 'line',
    data: {
      datasets: [{
        data: p.trace.map(function (d) { return {x: d[0], y: d[1]}; }),
        borderColor: '#151515',
        borderWidth: 2.1,
        pointRadius: 0,
        tension: 0,
        clip: {left: 0, top: 4, right: 0, bottom: 4}
      }]
    },
    options: {
      responsive: false,
      animation: false,
      events: [],
      layout: {padding: {left: 0, right: 63, top: PAD_TOP, bottom: 0}},
      plugins: {legend: {display: false}, tooltip: {enabled: false}},
      scales: {
        x: {
          type: 'linear', min: 0, max: 45,
          ticks: {stepSize: 1, display: false, autoSkip: false, maxTicksLimit: 100, includeBounds: false},
          grid: {drawOnChartArea: false, drawTicks: true, tickLength: 13, color: '#222', lineWidth: 1.6},
          border: {display: true, color: '#111', width: 2.2},
          afterFit: function (s) { s.height = xh; }
        },
        y: {
          type: 'linear', min: 0, max: p.yMax,
          ticks: {stepSize: p.minor, display: false, autoSkip: false, maxTicksLimit: 100, includeBounds: false},
          grid: {drawOnChartArea: false, drawTicks: true, tickLength: 8, color: '#222', lineWidth: 1.4},
          border: {display: true, color: '#111', width: 2},
          afterFit: function (s) { s.width = 51; }
        }
      }
    },
    plugins: [labelPlugin(p, idx, last)]
  });
}

panels.forEach(makeChart);
</script>
</body>
</html>
